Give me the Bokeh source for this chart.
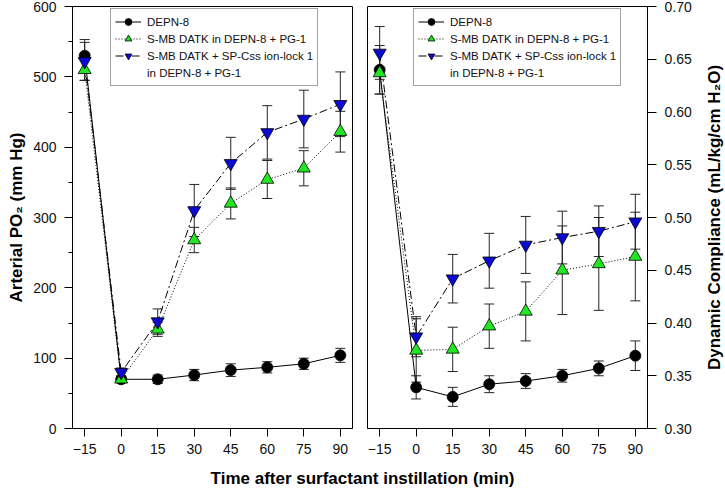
import math
from bokeh.plotting import figure
from bokeh.models import (ColumnDataSource, Whisker, TeeHead, FixedTicker,
                          NumeralTickFormatter, Legend, LegendItem, Label, Range1d)
from bokeh.layouts import row, column
from bokeh.embed import file_html
from bokeh.resources import INLINE

# ---------------- data ----------------
time_min = [-15, 0, 15, 30, 45, 60, 75, 90]

po2_depn = [530, 70, 70, 76, 83, 87, 92, 104]
po2_depn_err = [23, 5, 6, 8, 9, 8, 8, 10]
po2_smb = [510, 70, 141, 268, 320, 354, 370, 422]
po2_smb_err = [15, 4, 10, 18, 22, 27, 25, 29]
po2_ion = [522, 80, 152, 310, 377, 421, 440, 461]
po2_ion_err = [27, 6, 18, 37, 37, 38, 41, 46]

comp_depn = [0.640, 0.339, 0.330, 0.342, 0.345, 0.350, 0.357, 0.369]
comp_depn_err = [0.023, 0.011, 0.009, 0.008, 0.007, 0.006, 0.007, 0.014]
comp_smb = [0.637, 0.374, 0.375, 0.397, 0.411, 0.450, 0.456, 0.463]
comp_smb_err = [0.020, 0.030, 0.021, 0.021, 0.028, 0.042, 0.044, 0.042]
comp_ion = [0.656, 0.387, 0.442, 0.459, 0.474, 0.481, 0.487, 0.496]
comp_ion_err = [0.025, 0.019, 0.023, 0.026, 0.027, 0.025, 0.024, 0.026]

x_ticks = [-15, 0, 15, 30, 45, 60, 75, 90]
po2_ticks = [0, 100, 200, 300, 400, 500, 600]
po2_minor = [50, 150, 250, 350, 450, 550]
comp_ticks = [0.30, 0.35, 0.40, 0.45, 0.50, 0.55, 0.60, 0.65, 0.70]

series_labels = ["DEPN-8", "S-MB DATK in DEPN-8 + PG-1",
                 "S-MB DATK + SP-Css ion-lock 1", "in DEPN-8 + PG-1"]
x_title = "Time after surfactant instillation (min)"
left_title = "Arterial PO\u2082 (mm Hg)"
right_title = "Dynamic Compliance (mL/kg/cm H\u2082O)"

FONT = "Liberation Sans"
GREEN = "#22e622"
BLUE = "#0a0ad0"
ERR = "#262626"
H = 462


def base_fig(width, min_left, min_right, yr, yloc):
    p = figure(width=width, height=H, x_range=Range1d(-20, 95), y_range=yr,
               y_axis_location=yloc, output_backend="svg", toolbar_location=None,
               min_border_left=min_left, min_border_right=min_right,
               min_border_top=6, min_border_bottom=34)
    p.xgrid.grid_line_color = None
    p.ygrid.grid_line_color = None
    p.outline_line_color = "black"
    p.outline_line_width = 1
    p.outline_line_alpha = 1
    p.background_fill_color = "white"
    for ax in p.axis:
        ax.axis_line_color = "black"
        ax.major_tick_line_color = "black"
        ax.minor_tick_line_color = "black"
        ax.major_tick_in = 0
        ax.major_tick_out = 8
        ax.minor_tick_in = 0
        ax.minor_tick_out = 4
        ax.major_label_text_font = FONT
        ax.major_label_text_font_size = "14px"
        ax.major_label_text_color = "#111111"
        ax.axis_label_text_font = FONT
        ax.axis_label_text_font_style = "bold"
        ax.axis_label_text_font_size = "17px"
        ax.axis_label_text_color = "black"
    p.xaxis.ticker = FixedTicker(ticks=x_ticks, minor_ticks=[])
    p.xaxis.major_label_standoff = 7
    return p


def add_series(p, ys, errs, markers, colors, dashes, sizes):
    srcs = []
    for y, e in zip(ys, errs):
        src = ColumnDataSource(dict(x=time_min, y=y,
                                    lower=[a - b for a, b in zip(y, e)],
                                    upper=[a + b for a, b in zip(y, e)]))
        srcs.append(src)
        p.add_layout(Whisker(source=src, base="x", lower="lower", upper="upper",
                             dimension="height", line_color=ERR, line_width=1,
                             upper_head=TeeHead(size=10, line_color=ERR, line_width=1),
                             lower_head=TeeHead(size=10, line_color=ERR, line_width=1)))
    lines = []
    for src, d in zip(srcs, dashes):
        lines.append(p.line("x", "y", source=src, line_color="black", line_width=1,
                            line_dash=d))
    marks = []
    for src, m, c, s in zip(srcs, markers, colors, sizes):
        marks.append(p.scatter("x", "y", source=src, marker=m, size=s, fill_color=c,
                               line_color="black", line_width=0.8))
    dummy = p.scatter(x=[], y=[], marker="circle", size=1, fill_alpha=0, line_alpha=0)
    items = [LegendItem(label=series_labels[0], renderers=[lines[0], marks[0]]),
             LegendItem(label=series_labels[1], renderers=[lines[1], marks[1]]),
             LegendItem(label=series_labels[2], renderers=[lines[2], marks[2]]),
             LegendItem(label=series_labels[3], renderers=[dummy])]
    return items


def add_legend(p, items, loc):
    lg = Legend(items=items, location=loc, border_line_color="#444444",
                border_line_width=1, background_fill_color="white",
                background_fill_alpha=1, label_text_font=FONT,
                label_text_font_size="11.5px", label_text_color="#111111",
                glyph_width=26, glyph_height=17, label_height=17,
                label_standoff=6, spacing=0, padding=4, margin=0)
    p.add_layout(lg)


markers = ["circle", "triangle", "inverted_triangle"]
colors = ["black", GREEN, BLUE]
dashes = ["solid", "1 2", "8 3 2 3"]
sizes = [11, 13, 13]

# ---------------- left panel ----------------
p1 = base_fig(359, 72, 7, Range1d(0, 600), "left")
p1.yaxis.ticker = FixedTicker(ticks=po2_ticks, minor_ticks=po2_minor)
p1.yaxis.axis_label = left_title
p1.yaxis.major_label_standoff = 8
p1.yaxis.axis_label_standoff = 4
items1 = add_series(p1, [po2_depn, po2_smb, po2_ion],
                    [po2_depn_err, po2_smb_err, po2_ion_err],
                    markers, colors, dashes, sizes)
add_legend(p1, items1, (38, 342))

# ---------------- right panel ----------------
p2 = base_fig(341, 8, 53, Range1d(0.30, 0.70), "right")
p2.yaxis.ticker = FixedTicker(ticks=comp_ticks, minor_ticks=[])
p2.yaxis.formatter = NumeralTickFormatter(format="0.00")
p2.yaxis.major_label_standoff = 8
p2.yaxis.major_tick_out = 9
items2 = add_series(p2, [comp_depn, comp_smb, comp_ion],
                    [comp_depn_err, comp_smb_err, comp_ion_err],
                    markers, colors, dashes, sizes)
add_legend(p2, items2, (46, 342))

# right axis title (reads bottom-to-top) as the axis label of a narrow strip
p4 = figure(width=26, height=H, output_backend="svg", toolbar_location=None,
            x_range=Range1d(0, 1), y_range=Range1d(0, 1), x_axis_type=None,
            min_border_left=23, min_border_right=0, min_border_top=6,
            min_border_bottom=34)
p4.xgrid.grid_line_color = None
p4.ygrid.grid_line_color = None
p4.outline_line_color = None
p4.yaxis.ticker = FixedTicker(ticks=[], minor_ticks=[])
p4.yaxis.axis_line_color = None
p4.yaxis.major_tick_out = 0
p4.yaxis.minor_tick_out = 0
p4.yaxis.major_label_standoff = 0
p4.yaxis.axis_label_standoff = 0
p4.yaxis.axis_label = right_title
p4.yaxis.axis_label_text_font = FONT
p4.yaxis.axis_label_text_font_style = "bold"
p4.yaxis.axis_label_text_font_size = "17px"
p4.yaxis.axis_label_text_color = "black"

# ---------------- shared x title ----------------
p3 = figure(width=724, height=32, output_backend="svg", toolbar_location=None,
            x_range=Range1d(0, 1), y_range=Range1d(0, 1),
            x_axis_type=None, y_axis_type=None, min_border=0)
p3.xgrid.grid_line_color = None
p3.ygrid.grid_line_color = None
p3.outline_line_color = None
p3.add_layout(Label(x=362, y=16, x_units="screen", y_units="screen", text=x_title,
                    text_align="center", text_baseline="middle", text_font=FONT,
                    text_font_style="bold", text_font_size="17px", text_color="black"))

layout = column(row(p1, p2, p4), p3)
open("out.html", "w").write(file_html(layout, INLINE))
